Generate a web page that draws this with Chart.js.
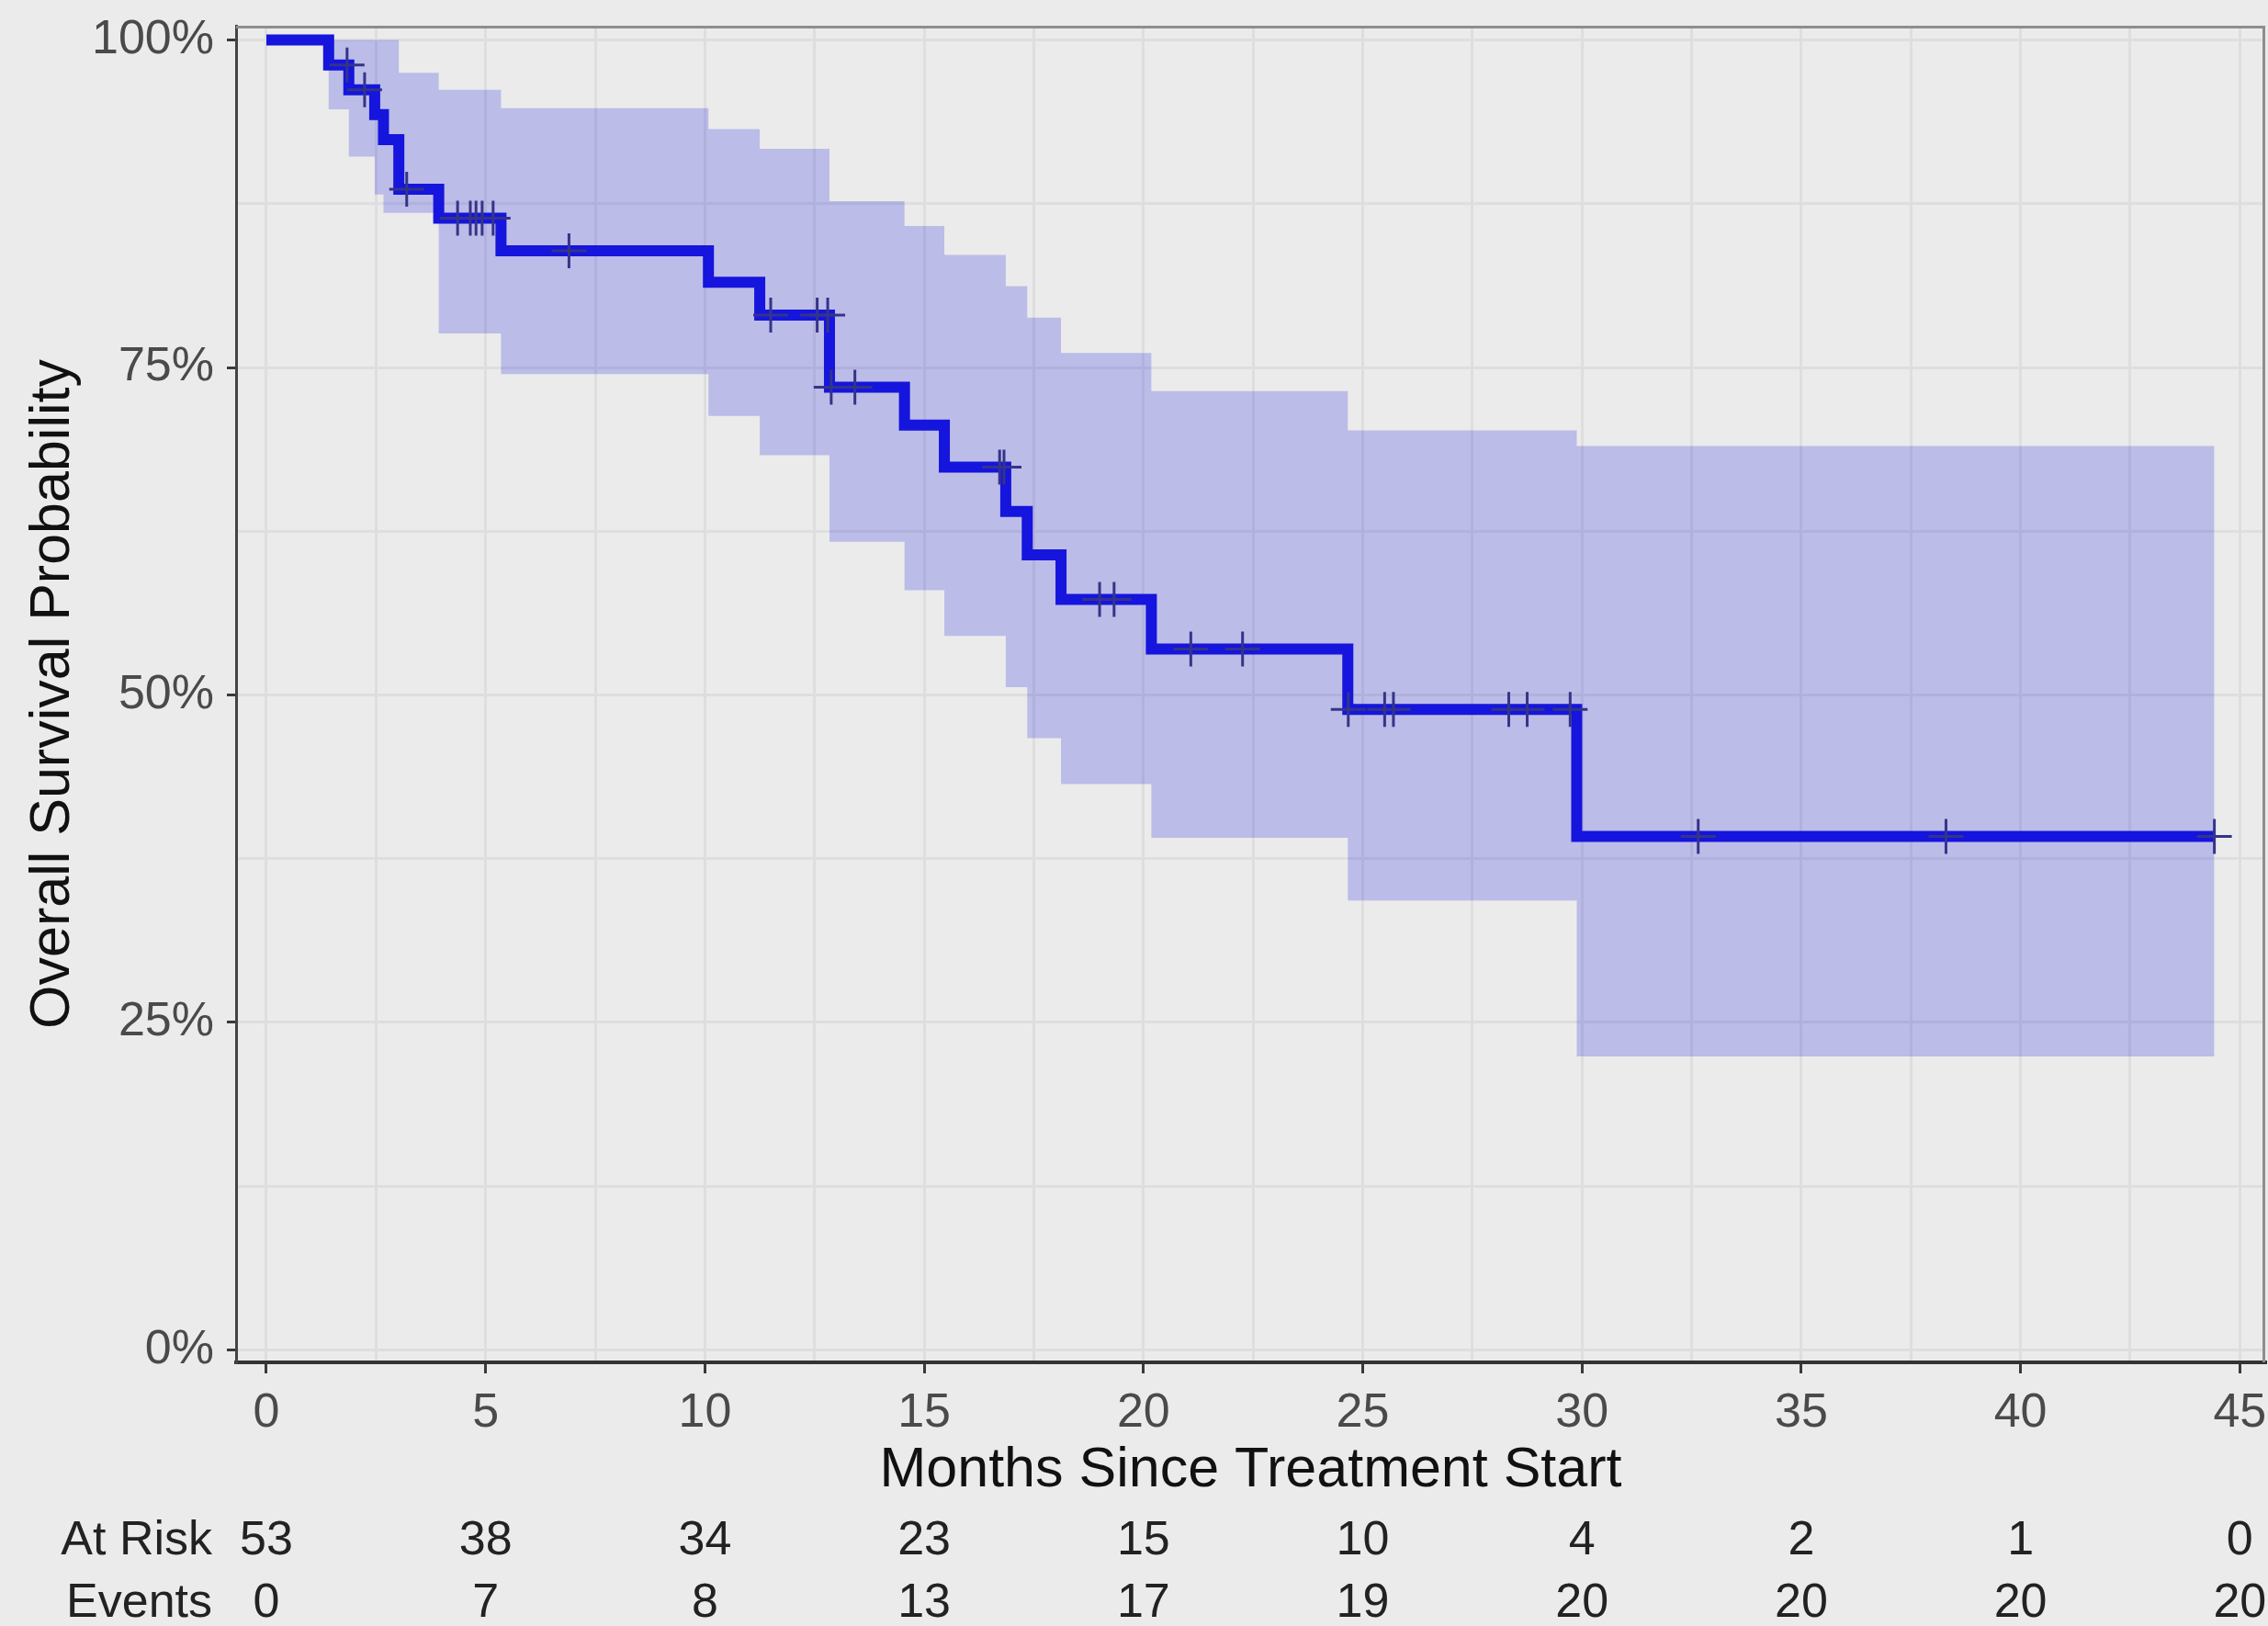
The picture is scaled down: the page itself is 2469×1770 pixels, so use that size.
<!DOCTYPE html>
<html>
<head>
<meta charset="utf-8">
<script src="https://cdn.jsdelivr.net/npm/chart.js@4.4.1/dist/chart.umd.min.js"></script>
<style>
  html, body { margin: 0; padding: 0; background: #ebebeb; }
  canvas { display: block; }
</style>
</head>
<body>
<canvas id="km" width="2469" height="1770"></canvas>
<script>
// Kaplan–Meier estimate: start of each step (months), survival and 95% CI bounds
const stepTimes = [0, 1.42, 1.88, 2.47, 2.67, 3.02, 3.93, 5.35, 10.08, 11.25, 12.84, 14.55, 15.46, 16.86, 17.35, 18.12, 20.18, 24.66, 29.88];
const survival  = [1, 0.981, 0.962, 0.943, 0.924, 0.886, 0.864, 0.839, 0.815, 0.790, 0.735, 0.706, 0.674, 0.640, 0.607, 0.573, 0.535, 0.489, 0.392];
const lowerCI   = [1, 0.947, 0.911, 0.882, 0.868, 0.868, 0.776, 0.745, 0.713, 0.683, 0.617, 0.580, 0.545, 0.506, 0.467, 0.432, 0.391, 0.343, 0.224];
const upperCI   = [1, 1.000, 1.000, 1.000, 1.000, 0.975, 0.962, 0.948, 0.932, 0.917, 0.877, 0.858, 0.836, 0.812, 0.788, 0.761, 0.732, 0.702, 0.690];
const followUpEnd = 44.42;

// Censored observations (months)
const censorTimes = [1.84, 2.24, 3.2, 4.36, 4.65, 4.78, 4.92, 5.17, 6.9, 11.5, 12.56, 12.8, 12.88, 13.42,
                     16.72, 16.82, 19.0, 19.33, 21.08, 22.26, 24.67, 25.5, 25.7, 28.33, 28.75, 29.73,
                     32.65, 38.3, 44.42];

// Risk table
const riskTimes   = [0, 5, 10, 15, 20, 25, 30, 35, 40, 45];
const atRisk      = [53, 38, 34, 23, 15, 10, 4, 2, 1, 0];
const eventCounts = [0, 7, 8, 13, 17, 19, 20, 20, 20, 20];

// Axis ticks
const xTickValues = [0, 5, 10, 15, 20, 25, 30, 35, 40, 45];
const yTickValues = [0, 0.25, 0.5, 0.75, 1];
const yTickLabels = ['0%', '25%', '50%', '75%', '100%'];

const FONT = "'Liberation Sans', Arial, Helvetica, sans-serif";

function stepSeries(values) {
  const pts = stepTimes.map((t, i) => ({ x: t, y: values[i] }));
  pts.push({ x: followUpEnd, y: values[values.length - 1] });
  return pts;
}
function survivalAt(t) {
  let v = survival[0];
  for (let i = 0; i < stepTimes.length; i++) if (stepTimes[i] <= t) v = survival[i];
  return v;
}
function withMinor(majors) {
  const out = [];
  majors.forEach((v, i) => {
    out.push(v);
    if (i < majors.length - 1) out.push((v + majors[i + 1]) / 2);
  });
  return out;
}
const isMajorX = v => xTickValues.some(m => Math.abs(m - v) < 1e-9);
const isMajorY = v => yTickValues.some(m => Math.abs(m - v) < 1e-9);

const backgroundPlugin = {
  id: 'pageBackground',
  beforeDraw(chart) {
    const c = chart.ctx;
    c.save();
    c.fillStyle = '#ebebeb';
    c.fillRect(0, 0, chart.width, chart.height);
    c.restore();
  }
};

const framePlugin = {
  id: 'panelFrame',
  afterDraw(chart) {
    const { left, right, top, bottom } = chart.chartArea;
    const c = chart.ctx;
    c.save();
    c.strokeStyle = '#8e8e8e';
    c.lineWidth = 3;
    c.beginPath();
    c.moveTo(left, top + 1.5);
    c.lineTo(right - 1.5, top + 1.5);
    c.lineTo(right - 1.5, bottom);
    c.stroke();
    c.restore();
  }
};

const riskTablePlugin = {
  id: 'riskTable',
  afterDraw(chart) {
    const c = chart.ctx;
    const xs = chart.scales.x;
    const rowY = [1678, 1746];
    c.save();
    c.font = `52px ${FONT}`;
    c.fillStyle = '#222222';
    c.textBaseline = 'middle';
    c.textAlign = 'right';
    c.fillText('At Risk', 231, rowY[0]);
    c.fillText('Events', 231, rowY[1]);
    c.textAlign = 'center';
    riskTimes.forEach((t, i) => {
      const px = xs.getPixelForValue(t);
      c.fillText(String(atRisk[i]), px, rowY[0]);
      c.fillText(String(eventCounts[i]), px, rowY[1]);
    });
    c.restore();
  }
};

new Chart(document.getElementById('km'), {
  type: 'line',
  data: {
    datasets: [
      {
        label: 'Censored',
        data: censorTimes.map(t => ({ x: t, y: survivalAt(t) })),
        showLine: false,
        pointStyle: 'cross',
        pointRadius: 19,
        pointBorderWidth: 3,
        pointBorderColor: '#34348a',
        pointBackgroundColor: '#34348a',
        order: 1
      },
      {
        label: 'Overall survival',
        data: stepSeries(survival),
        stepped: true,
        borderColor: '#1515dd',
        borderWidth: 12,
        borderJoinStyle: 'miter',
        borderCapStyle: 'butt',
        pointRadius: 0,
        fill: false,
        order: 2
      },
      {
        label: 'Upper 95% CI',
        data: stepSeries(upperCI),
        stepped: true,
        borderWidth: 0,
        borderColor: 'rgba(0,0,0,0)',
        pointRadius: 0,
        fill: '+1',
        backgroundColor: 'rgba(0, 0, 220, 0.2)',
        order: 3
      },
      {
        label: 'Lower 95% CI',
        data: stepSeries(lowerCI),
        stepped: true,
        borderWidth: 0,
        borderColor: 'rgba(0,0,0,0)',
        pointRadius: 0,
        fill: false,
        order: 4
      }
    ]
  },
  options: {
    responsive: false,
    animation: false,
    events: [],
    devicePixelRatio: 1,
    layout: { autoPadding: false, padding: { top: 28, right: 3, left: 0, bottom: 0 } },
    plugins: {
      legend: { display: false },
      tooltip: { enabled: false },
      title: { display: false }
    },
    scales: {
      x: {
        type: 'linear',
        min: -0.691,
        max: 45.58,
        afterBuildTicks(scale) {
          scale.ticks = withMinor(xTickValues).map(v => ({ value: v }));
        },
        afterFit(scale) {
          scale.height = 1770 - 1483;
          scale.paddingLeft = 0;
          scale.paddingRight = 0;
        },
        ticks: {
          autoSkip: false,
          maxRotation: 0,
          padding: 12,
          color: '#4a4a4a',
          font: { size: 52, family: FONT },
          callback: v => (isMajorX(v) ? String(v) : '')
        },
        grid: {
          color: '#dedede',
          lineWidth: 3,
          drawTicks: true,
          tickLength: 12,
          tickWidth: 3,
          tickColor: ctx => (ctx.tick && isMajorX(ctx.tick.value) ? '#3a3a3a' : 'rgba(0,0,0,0)')
        },
        border: { display: true, color: '#333333', width: 4 },
        title: {
          display: true,
          text: 'Months Since Treatment Start',
          color: '#111111',
          font: { size: 61, family: FONT },
          padding: { top: 0, bottom: 132 }
        }
      },
      y: {
        type: 'linear',
        min: -0.0095,
        max: 1.0109,
        afterBuildTicks(scale) {
          scale.ticks = withMinor(yTickValues).map(v => ({ value: v }));
        },
        afterFit(scale) {
          scale.width = 257;
          scale.paddingTop = 0;
          scale.paddingBottom = 0;
        },
        ticks: {
          autoSkip: false,
          padding: 14,
          color: '#4a4a4a',
          font: { size: 52, family: FONT },
          callback: v => {
            const i = yTickValues.findIndex(m => Math.abs(m - v) < 1e-9);
            return i >= 0 ? yTickLabels[i] : '';
          }
        },
        grid: {
          color: '#dedede',
          lineWidth: 3,
          drawTicks: true,
          tickLength: 10,
          tickWidth: 3,
          tickColor: ctx => (ctx.tick && isMajorY(ctx.tick.value) ? '#3a3a3a' : 'rgba(0,0,0,0)')
        },
        border: { display: true, color: '#444444', width: 3 },
        title: {
          display: true,
          text: 'Overall Survival Probability',
          color: '#111111',
          font: { size: 61, family: FONT },
          padding: { top: 22, bottom: 0 }
        }
      }
    }
  },
  plugins: [backgroundPlugin, framePlugin, riskTablePlugin]
});
</script>
</body>
</html>
